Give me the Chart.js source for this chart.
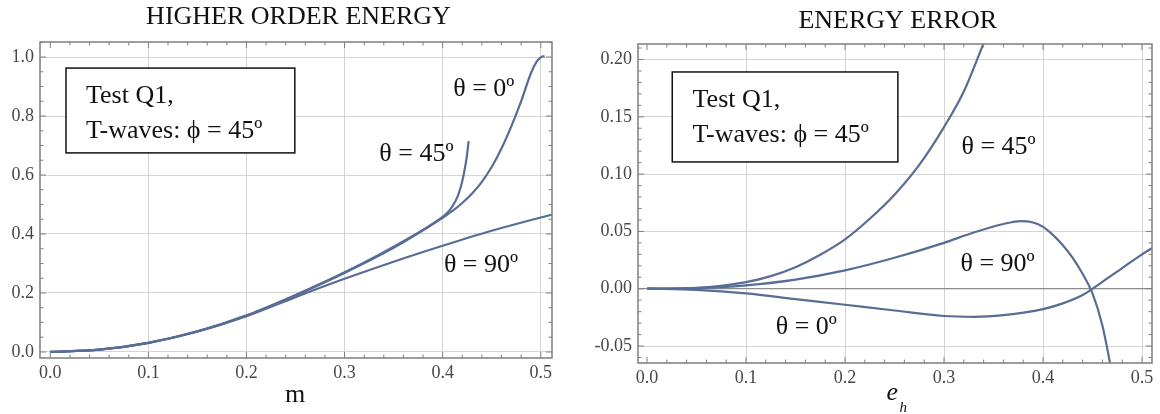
<!DOCTYPE html>
<html>
<head>
<meta charset="utf-8">
<script src="https://cdn.jsdelivr.net/npm/chart.js@4.4.1/dist/chart.umd.min.js"></script>
<style>
  html, body { margin: 0; padding: 0; background: #fff; }
  #wrap { position: relative; width: 1160px; height: 414px; }
  .panel { position: absolute; top: 0; width: 580px; height: 414px; }
</style>
</head>
<body>
<div id="wrap">
  <div class="panel" style="left:0"><canvas id="energyChart" width="580" height="414"></canvas></div>
  <div class="panel" style="left:580px"><canvas id="errorChart" width="580" height="414"></canvas></div>
</div>
<script>
// ---- left panel: higher order energy vs m ----
const mTheta0 = [0, 0.05, 0.1, 0.15, 0.2, 0.25, 0.3, 0.35, 0.4, 0.41, 0.42, 0.43, 0.44, 0.45, 0.46, 0.47, 0.48, 0.49, 0.496, 0.5, 0.504];
const energyTheta0 = [0, 0.008, 0.031, 0.07, 0.123, 0.192, 0.268, 0.353, 0.455, 0.478, 0.505, 0.537, 0.577, 0.627, 0.69, 0.765, 0.85, 0.945, 0.985, 0.999, 1.003];
const mTheta45 = [0, 0.05, 0.1, 0.15, 0.2, 0.25, 0.3, 0.35, 0.4, 0.405, 0.41, 0.415, 0.419, 0.422, 0.4245, 0.4265];
const energyTheta45 = [0, 0.008, 0.031, 0.07, 0.124, 0.193, 0.27, 0.357, 0.458, 0.473, 0.494, 0.525, 0.565, 0.61, 0.66, 0.715];
const mTheta90 = [0, 0.05, 0.1, 0.15, 0.2, 0.25, 0.3, 0.35, 0.4, 0.45, 0.5, 0.512];
const energyTheta90 = [0, 0.008, 0.031, 0.069, 0.121, 0.186, 0.248, 0.306, 0.36, 0.411, 0.456, 0.466];

const energyXTicks = [0, 0.1, 0.2, 0.3, 0.4, 0.5];
const energyYTicks = [0, 0.2, 0.4, 0.6, 0.8, 1.0];

// ---- right panel: energy error vs e_h ----
const ehTheta0 = [0, 0.05, 0.1, 0.15, 0.2, 0.25, 0.3, 0.33, 0.36, 0.4, 0.42, 0.44, 0.46, 0.48, 0.5, 0.511];
const errorTheta0 = [0, -0.001, -0.004, -0.009, -0.014, -0.019, -0.0238, -0.0245, -0.023, -0.0178, -0.0128, -0.0055, 0.006, 0.018, 0.03, 0.036];
const ehTheta45 = [0, 0.05, 0.1, 0.125, 0.15, 0.175, 0.2, 0.225, 0.25, 0.275, 0.3, 0.32, 0.34];
const errorTheta45 = [0, 0.0007, 0.0057, 0.011, 0.0188, 0.0296, 0.043, 0.061, 0.082, 0.108, 0.141, 0.172, 0.214];
const ehTheta90 = [0, 0.05, 0.1, 0.15, 0.2, 0.25, 0.3, 0.33, 0.36, 0.378, 0.39, 0.4, 0.41, 0.42, 0.43, 0.44, 0.45, 0.46, 0.468];
const errorTheta90 = [0, 0.0005, 0.003, 0.008, 0.016, 0.027, 0.04, 0.049, 0.0565, 0.059, 0.0578, 0.054, 0.047, 0.038, 0.027, 0.013, -0.004, -0.032, -0.066];

const errorXTicks = [0, 0.1, 0.2, 0.3, 0.4, 0.5];
const errorYTicks = [-0.05, 0, 0.05, 0.1, 0.15, 0.2];

const CURVE = '#586c95';
const SERIF = '"Liberation Serif", "Times New Roman", serif';

const toPoints = (xs, ys) => xs.map((x, i) => ({ x, y: ys[i] }));

const curve = (xs, ys) => ({
    data: toPoints(xs, ys),
    borderColor: CURVE,
    borderWidth: 2.2,
    pointRadius: 0,
    fill: false,
    cubicInterpolationMode: 'monotone'
});

// frame round the plot, with Mathematica-style ticks pointing inwards
const frameTicks = {
    id: 'frameTicks',
    afterDatasetsDraw(chart, args, opts) {
        const { ctx, chartArea: a, scales: { x, y } } = chart;
        ctx.save();
        ctx.strokeStyle = '#808080';
        ctx.lineWidth = 1;
        const near = (v, step) => Math.abs(v / step - Math.round(v / step)) < 1e-6;
        for (let v = opts.xStart; v <= x.max + 1e-9; v += opts.xMinor) {
            const px = x.getPixelForValue(v);
            if (px < a.left || px > a.right) continue;
            const len = near(v, opts.xMajor) ? 6 : 3.5;
            ctx.beginPath();
            ctx.moveTo(px, a.bottom); ctx.lineTo(px, a.bottom - len);
            ctx.moveTo(px, a.top); ctx.lineTo(px, a.top + len);
            ctx.stroke();
        }
        for (let v = opts.yStart; v <= y.max + 1e-9; v += opts.yMinor) {
            const py = y.getPixelForValue(v);
            if (py < a.top || py > a.bottom) continue;
            const len = near(v, opts.yMajor) ? 6 : 3.5;
            ctx.beginPath();
            ctx.moveTo(a.left, py); ctx.lineTo(a.left + len, py);
            ctx.moveTo(a.right, py); ctx.lineTo(a.right - len, py);
            ctx.stroke();
        }
        ctx.lineWidth = 1.6;
        ctx.strokeStyle = '#858585';
        ctx.strokeRect(a.left, a.top, a.width, a.height);
        ctx.restore();
    }
};

// titles, the boxed note and the curve labels
const decor = {
    id: 'decor',
    afterDraw(chart, args, opts) {
        const { ctx, chartArea: a, scales: { x, y } } = chart;
        const cx = (a.left + a.right) / 2;
        ctx.save();
        ctx.fillStyle = '#111';
        ctx.textAlign = 'center';
        ctx.textBaseline = 'alphabetic';
        ctx.font = `26px ${SERIF}`;
        ctx.fillText(opts.title, cx + opts.titleDx, opts.titleY);

        // axis name
        ctx.textAlign = 'left';
        if (opts.axisSub) {
            ctx.font = `italic 26px ${SERIF}`;
            ctx.fillText(opts.axisName, cx + opts.axisDx, opts.axisY);
            ctx.font = `italic 15px ${SERIF}`;
            ctx.fillText(opts.axisSub, cx + opts.axisDx + 13, opts.axisY + 12);
        } else {
            ctx.font = `26px ${SERIF}`;
            ctx.textAlign = 'center';
            ctx.fillText(opts.axisName, cx + opts.axisDx, opts.axisY);
        }

        // boxed note
        const b = opts.box;
        const bl = x.getPixelForValue(b.x0), br = x.getPixelForValue(b.x1);
        const bt = y.getPixelForValue(b.y1), bb = y.getPixelForValue(b.y0);
        ctx.fillStyle = '#fff';
        ctx.fillRect(bl, bt, br - bl, bb - bt);
        ctx.strokeStyle = '#111';
        ctx.lineWidth = 1.5;
        ctx.strokeRect(bl, bt, br - bl, bb - bt);
        ctx.fillStyle = '#111';
        ctx.textAlign = 'left';
        ctx.font = `26px ${SERIF}`;
        b.lines.forEach((t, i) => {
            ctx.fillText(t, x.getPixelForValue(b.tx), y.getPixelForValue(b.ty[i]));
        });

        // curve labels
        opts.labels.forEach(l => {
            ctx.fillText(l.text, x.getPixelForValue(l.x), y.getPixelForValue(l.y));
        });
        ctx.restore();
    }
};

function makeOptions(cfg) {
    const tickFont = { family: SERIF, size: 18 };
    return {
        responsive: false,
        animation: false,
        layout: { padding: { top: cfg.top, right: cfg.right, left: 0, bottom: 0 } },
        plugins: {
            legend: { display: false },
            tooltip: { enabled: false },
            frameTicks: cfg.frame,
            decor: cfg.decor
        },
        scales: {
            x: {
                type: 'linear',
                min: cfg.xMin,
                max: cfg.xMax,
                afterBuildTicks: s => { s.ticks = cfg.xTicks.map(v => ({ value: v })); },
                afterFit: s => { s.height = cfg.xHeight; },
                ticks: {
                    callback: v => v.toFixed(1),
                    font: tickFont,
                    color: '#474747',
                    padding: 4,
                    maxRotation: 0,
                    autoSkip: false
                },
                grid: {
                    drawTicks: false,
                    color: c => (c.tick && c.tick.value === 0) ? 'rgba(0,0,0,0)' : '#d4d4d4',
                    lineWidth: 1
                },
                border: { display: false }
            },
            y: {
                type: 'linear',
                min: cfg.yMin,
                max: cfg.yMax,
                afterBuildTicks: s => { s.ticks = cfg.yTicks.map(v => ({ value: v })); },
                afterFit: s => { s.width = cfg.yWidth; },
                ticks: {
                    callback: v => v.toFixed(cfg.yDigits),
                    font: tickFont,
                    color: '#474747',
                    padding: 6,
                    autoSkip: false
                },
                grid: {
                    drawTicks: false,
                    color: c => (c.tick && c.tick.value === 0) ? cfg.zeroColor : '#d4d4d4',
                    lineWidth: c => (c.tick && c.tick.value === 0) ? cfg.zeroWidth : 1
                },
                border: { display: false }
            }
        }
    };
}

new Chart(document.getElementById('energyChart'), {
    type: 'line',
    data: {
        datasets: [
            curve(mTheta90, energyTheta90),
            curve(mTheta0, energyTheta0),
            curve(mTheta45, energyTheta45)
        ]
    },
    options: makeOptions({
        top: 42, right: 28, xHeight: 56, yWidth: 40,
        xMin: -0.0105, xMax: 0.5115, yMin: -0.0205, yMax: 1.051,
        xTicks: energyXTicks, yTicks: energyYTicks, yDigits: 1,
        zeroColor: '#d4d4d4', zeroWidth: 1,
        frame: { xStart: 0, xMinor: 0.02, xMajor: 0.1, yStart: 0, yMinor: 0.05, yMajor: 0.2 },
        decor: {
            title: 'HIGHER ORDER ENERGY', titleDx: 2.5, titleY: 24,
            axisName: 'm', axisDx: -1, axisY: 402,
            box: {
                x0: 0.016, x1: 0.2493, y0: 0.675, y1: 0.9626,
                tx: 0.0364, ty: [0.8448, 0.726],
                lines: ['Test Q1,', 'T-waves: \u03D5 = 45\u00BA']
            },
            labels: [
                { text: '\u03B8 = 0\u00BA', x: 0.4108, y: 0.8686 },
                { text: '\u03B8 = 45\u00BA', x: 0.3354, y: 0.6478 },
                { text: '\u03B8 = 90\u00BA', x: 0.4013, y: 0.2707 }
            ]
        }
    }),
    plugins: [frameTicks, decor]
});

new Chart(document.getElementById('errorChart'), {
    type: 'line',
    data: {
        datasets: [
            curve(ehTheta0, errorTheta0),
            curve(ehTheta90, errorTheta90),
            curve(ehTheta45, errorTheta45)
        ]
    },
    options: makeOptions({
        top: 44, right: 8, xHeight: 51, yWidth: 58,
        xMin: -0.0091, xMax: 0.5101, yMin: -0.0648, yMax: 0.2135,
        xTicks: errorXTicks, yTicks: errorYTicks, yDigits: 2,
        zeroColor: '#8c8c8c', zeroWidth: 1.3,
        frame: { xStart: 0, xMinor: 0.02, xMajor: 0.1, yStart: -0.06, yMinor: 0.01, yMajor: 0.05 },
        decor: {
            title: 'ENERGY ERROR', titleDx: 2.7, titleY: 28,
            axisName: 'e', axisSub: 'h', axisDx: -8.5, axisY: 400,
            box: {
                x0: 0.0255, x1: 0.2534, y0: 0.1106, y1: 0.1891,
                tx: 0.046, ty: [0.1586, 0.1283],
                lines: ['Test Q1,', 'T-waves: \u03D5 = 45\u00BA']
            },
            labels: [
                { text: '\u03B8 = 45\u00BA', x: 0.3176, y: 0.1175 },
                { text: '\u03B8 = 90\u00BA', x: 0.3166, y: 0.0157 },
                { text: '\u03B8 = 0\u00BA', x: 0.130, y: -0.0395 }
            ]
        }
    }),
    plugins: [frameTicks, decor]
});
</script>
</body>
</html>
